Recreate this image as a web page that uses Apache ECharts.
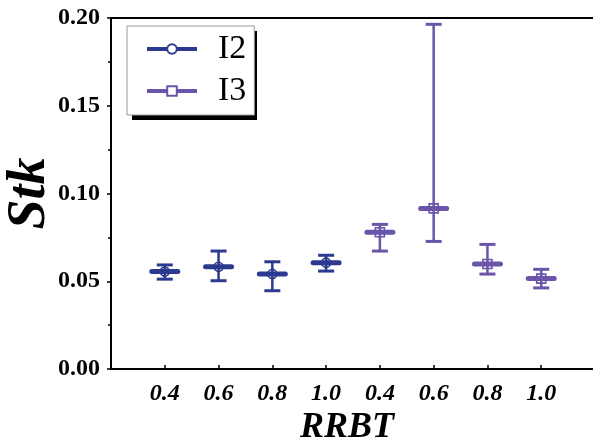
<!DOCTYPE html>
<html>
<head>
<meta charset="utf-8">
<script src="https://cdn.jsdelivr.net/npm/echarts@6/dist/echarts.min.js"></script>
<style>html,body{margin:0;padding:0;background:#fff;}#c{width:593px;height:446px;}</style>
</head>
<body>
<div id="c"></div>
<script>
const categories = ['0.4', '0.6', '0.8', '1.0', '0.4', '0.6', '0.8', '1.0'];
const yTicks = [0, 0.05, 0.10, 0.15, 0.20];
const seriesNames = ['I2', 'I3'];
const i2Pos = [1, 2, 3, 4];
const i2Mean = [0.0555, 0.0583, 0.0542, 0.0606];
const i2Low = [0.0512, 0.0503, 0.0446, 0.0558];
const i2High = [0.0593, 0.0672, 0.0611, 0.0648];
const i3Pos = [5, 6, 7, 8];
const i3Mean = [0.0779, 0.0915, 0.0598, 0.0515];
const i3Low = [0.0672, 0.0727, 0.0541, 0.0462];
const i3High = [0.0824, 0.1964, 0.0710, 0.0568];

const C2 = '#2b3a8f';
const C3 = '#6a55aa';
const FONT = "'Liberation Serif', 'Times New Roman', Times, serif";

function rows(pos, mean, low, high) {
  return pos.map((p, i) => [p, mean[i], low[i], high[i]]);
}

function makeRender(color, markerType) {
  return function (params, api) {
    const x = api.value(0);
    const pm = api.coord([x, api.value(1)]);
    const pl = api.coord([x, api.value(2)]);
    const ph = api.coord([x, api.value(3)]);
    const capHalf = 8, barHalf = 13, r = 4.5;
    const children = [
      { type: 'line', shape: { x1: pm[0], y1: pl[1], x2: pm[0], y2: ph[1] }, style: { stroke: color, lineWidth: 2.5 } },
      { type: 'line', shape: { x1: pm[0] - capHalf, y1: ph[1], x2: pm[0] + capHalf, y2: ph[1] }, style: { stroke: color, lineWidth: 3 } },
      { type: 'line', shape: { x1: pm[0] - capHalf, y1: pl[1], x2: pm[0] + capHalf, y2: pl[1] }, style: { stroke: color, lineWidth: 3 } },
      { type: 'line', shape: { x1: pm[0] - barHalf, y1: pm[1], x2: pm[0] + barHalf, y2: pm[1] }, style: { stroke: color, lineWidth: 5, lineCap: 'round' } }
    ];
    if (markerType === 'circle') {
      children.push({ type: 'circle', shape: { cx: pm[0], cy: pm[1], r: r }, style: { fill: 'none', stroke: color, lineWidth: 1.6 } });
    } else {
      children.push({ type: 'rect', shape: { x: pm[0] - r, y: pm[1] - r, width: 2 * r, height: 2 * r }, style: { fill: 'none', stroke: color, lineWidth: 1.6 } });
    }
    return { type: 'group', children: children };
  };
}

const chart = echarts.init(document.getElementById('c'), null, { renderer: 'canvas' });
chart.setOption({
  animation: false,
  backgroundColor: '#fff',
  grid: { left: 111, right: -2, top: 18, bottom: 77, containLabel: false, outerBoundsMode: 'none' },
  graphic: [{
    type: 'rect', z: 10, zlevel: 0,
    shape: { x: 132, y: 31, width: 125, height: 89 },
    style: { fill: '#000' }, silent: true
  }],
  legend: {
    orient: 'vertical',
    left: 127,
    top: 26,
    z: 20,
    data: seriesNames,
    itemWidth: 50,
    itemHeight: 12,
    itemGap: 6,
    padding: [5, 8, 6, 18],
    backgroundColor: '#fff',
    borderColor: '#999',
    borderWidth: 1,
    lineStyle: { width: 4 },
    itemStyle: { borderWidth: 2 },
    textStyle: { fontFamily: FONT, fontSize: 34, color: '#000', lineHeight: 36, padding: [0, 0, 0, 16] }
  },
  xAxis: [{
    type: 'value',
    min: 0, max: 9, interval: 1,
    name: 'RRBT',
    nameLocation: 'middle',
    nameGap: 41,
    nameMoveOverlap: false,
    nameTextStyle: { fontFamily: FONT, fontSize: 36, fontWeight: 'bold', fontStyle: 'italic', color: '#000', padding: [0, 12, 0, 0] },
    axisLine: { lineStyle: { color: '#000', width: 2 } },
    axisTick: { inside: true, length: 4, lineStyle: { color: '#000', width: 1.5 } },
    splitLine: { show: false },
    axisLabel: {
      margin: 13,
      fontFamily: FONT, fontSize: 24, fontWeight: 'bold', fontStyle: 'italic', color: '#000',
      formatter: function (v) { return categories[v - 1] !== undefined ? categories[v - 1] : ''; }
    }
  }, {
    type: 'value', position: 'top', min: 0, max: 9,
    axisLine: { show: true, onZero: false, lineStyle: { color: '#000', width: 2 } },
    axisTick: { show: false }, axisLabel: { show: false }, splitLine: { show: false }
  }],
  yAxis: {
    type: 'value',
    min: yTicks[0], max: yTicks[yTicks.length - 1], interval: 0.05,
    name: 'Stk',
    nameLocation: 'middle',
    nameGap: 54,
    nameMoveOverlap: false,
    nameTextStyle: { fontFamily: FONT, fontSize: 54, fontWeight: 'bold', fontStyle: 'italic', color: '#000' },
    axisLine: { show: true, lineStyle: { color: '#000', width: 2 } },
    axisTick: { show: true, length: 4, lineStyle: { color: '#000', width: 1.5 } },
    minorTick: { show: true, splitNumber: 2, length: 3, lineStyle: { color: '#000', width: 1.5 } },
    splitLine: { show: false },
    axisLabel: {
      margin: 11,
      fontFamily: FONT, fontSize: 24, fontWeight: 'bold', color: '#000',
      formatter: function (v) { return v.toFixed(2); }
    }
  },
  series: [
    { name: 'I2err', type: 'custom', renderItem: makeRender(C2, 'circle'), data: rows(i2Pos, i2Mean, i2Low, i2High), z: 3, clip: false },
    { name: 'I3err', type: 'custom', renderItem: makeRender(C3, 'rect'), data: rows(i3Pos, i3Mean, i3Low, i3High), z: 3, clip: false },
    { name: 'I2', type: 'line', data: [], symbol: 'emptyCircle', itemStyle: { color: C2 }, lineStyle: { color: C2, width: 4 } },
    { name: 'I3', type: 'line', data: [], symbol: 'emptyRect', itemStyle: { color: C3 }, lineStyle: { color: C3, width: 4 } }
  ]
});
</script>
</body>
</html>
